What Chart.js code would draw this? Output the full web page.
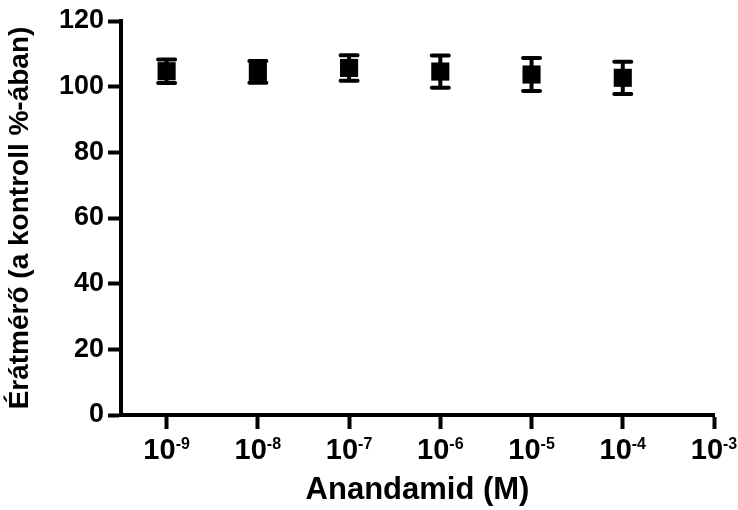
<!DOCTYPE html>
<html>
<head>
<meta charset="utf-8">
<script src="https://cdn.jsdelivr.net/npm/chart.js"></script>
<style>
  body { margin: 0; background: #fff; }
  #wrap { width: 738px; height: 510px; }
</style>
</head>
<body>
<div id="wrap"><canvas id="chart" width="738" height="510"></canvas></div>
<script>
// concentrations as log10 exponents (M)
const doseExps = [-9, -8, -7, -6, -5, -4];
const tickExps = [-9, -8, -7, -6, -5, -4, -3];
const diameterMean = [104.7, 104.5, 105.7, 104.6, 103.7, 102.7];
const diameterErr = [3.6, 3.3, 3.9, 4.9, 5.0, 4.9];
const yTicks = [0, 20, 40, 60, 80, 100, 120];

const FONT = '"Liberation Sans", Arial, Helvetica, sans-serif';

// error bars drawn from the chart's scales
const errorBars = {
    id: 'errorBars',
    beforeDatasetsDraw(chart) {
        const ctx = chart.ctx;
        const xs = chart.scales.x, ys = chart.scales.y;
        ctx.save();
        ctx.strokeStyle = '#000';
        ctx.lineWidth = 4;
        ctx.lineCap = 'round';
        doseExps.forEach(function (e, i) {
            const x = xs.getPixelForValue(e);
            const top = ys.getPixelForValue(diameterMean[i] + diameterErr[i]);
            const bot = ys.getPixelForValue(diameterMean[i] - diameterErr[i]);
            ctx.beginPath();
            ctx.moveTo(x, top); ctx.lineTo(x, bot);
            ctx.moveTo(x - 8.5, top); ctx.lineTo(x + 8.5, top);
            ctx.moveTo(x - 8.5, bot); ctx.lineTo(x + 8.5, bot);
            ctx.stroke();
        });
        ctx.restore();
    }
};

// "10" with a raised exponent under every x tick
const powerLabels = {
    id: 'powerLabels',
    afterDraw(chart) {
        const ctx = chart.ctx;
        const xs = chart.scales.x;
        const base = 'bold 29px ' + FONT;
        const sup = 'bold 16px ' + FONT;
        const y = xs.top + 44;
        ctx.save();
        ctx.fillStyle = '#000';
        ctx.textBaseline = 'alphabetic';
        tickExps.forEach(function (e) {
            const x = xs.getPixelForValue(e);
            const expText = String(e);
            ctx.font = base;
            const w1 = ctx.measureText('10').width;
            ctx.font = sup;
            const w2 = ctx.measureText(expText).width;
            const start = x - (w1 + w2) / 2;
            ctx.font = base;
            ctx.fillText('10', start, y);
            ctx.font = sup;
            ctx.fillText(expText, start + w1, y - 10);
        });
        ctx.restore();
    }
};

const ctx = document.getElementById('chart').getContext('2d');
new Chart(ctx, {
    type: 'scatter',
    data: {
        datasets: [{
            label: 'Anandamid',
            data: doseExps.map((e, i) => ({ x: e, y: diameterMean[i] })),
            pointStyle: 'rect',
            pointRadius: 12.8,
            pointHoverRadius: 12.8,
            backgroundColor: '#000',
            borderColor: '#000',
            borderWidth: 0
        }]
    },
    options: {
        responsive: false,
        animation: false,
        events: [],
        layout: { padding: { top: 21, right: 24, bottom: 0, left: 0 } },
        plugins: {
            legend: { display: false },
            tooltip: { enabled: false }
        },
        scales: {
            x: {
                type: 'linear',
                min: -9.5,
                max: -3,
                afterBuildTicks(scale) {
                    scale.ticks = tickExps.map(v => ({ value: v }));
                },
                afterFit(scale) { scale.height = 95; },
                border: { display: true, color: '#000', width: 4 },
                grid: { display: true, drawOnChartArea: false, drawTicks: true, tickLength: 14, tickWidth: 4, tickColor: '#000' },
                ticks: { callback: () => '' },
                title: {
                    display: true,
                    text: 'Anandamid (M)',
                    color: '#000',
                    font: { family: FONT, size: 31, weight: 'bold' },
                    padding: { top: 0, bottom: 1 }
                }
            },
            y: {
                min: 0,
                max: 120,
                afterBuildTicks(scale) {
                    scale.ticks = yTicks.map(v => ({ value: v }));
                },
                afterFit(scale) { scale.width = 121; },
                border: { display: true, color: '#000', width: 4 },
                grid: { display: true, drawOnChartArea: false, drawTicks: true, tickLength: 13, tickWidth: 4, tickColor: '#000' },
                ticks: {
                    color: '#000',
                    padding: 4,
                    font: { family: FONT, size: 27, weight: 'bold' }
                },
                title: {
                    display: true,
                    text: 'Érátmérő (a kontroll %-ában)',
                    color: '#000',
                    font: { family: FONT, size: 28, weight: 'bold' },
                    padding: { top: 3, bottom: 0 }
                }
            }
        }
    },
    plugins: [errorBars, powerLabels]
});
</script>
</body>
</html>
